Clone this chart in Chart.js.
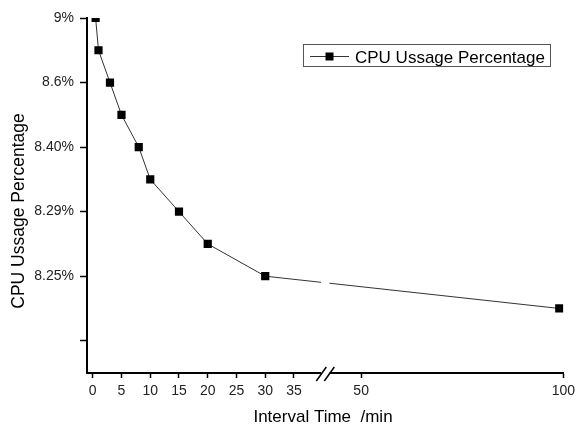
<!DOCTYPE html>
<html>
<head>
<meta charset="utf-8">
<title>CPU Ussage Percentage</title>
<script src="https://cdn.jsdelivr.net/npm/chart.js@4/dist/chart.umd.min.js"></script>
<style>
  html, body { margin: 0; padding: 0; background: #fff; }
  #chart { display: block; }
</style>
</head>
<body>
<canvas id="chart" width="580" height="427"></canvas>
<script>
'use strict';

/* ── data ── */
const intervals   = [0.5, 1, 3, 5, 8, 10, 15, 20, 30, 99];          // min
const cpuUsage    = [9.0, 8.8, 8.6, 8.5, 8.40, 8.345, 8.29, 8.27, 8.25, 8.225]; // %

const xTickValues = [0, 5, 10, 15, 20, 25, 30, 35, 50, 100];
const yTickValues = [9.0, 8.6, 8.40, 8.29, 8.25, 8.20];             // top -> bottom, equally spaced
const yTickLabels = ['9%', '8.6%', '8.40%', '8.29%', '8.25%', ''];

const seriesLabel = 'CPU Ussage Percentage';
const xTitle      = 'Interval Time  /min';
const yTitle      = 'CPU Ussage Percentage';

/* ── axis transforms ── */
// x axis is broken between 40 and 40.5, right part compressed
const xBreak = [40, 40.5];
const xRatio = 0.7034;
function xPos(v) {
  return v <= xBreak[0] ? v : xBreak[0] + (v - xBreak[1]) * xRatio;
}

// y axis: tick values are placed evenly, values in between interpolated
function yPos(v) {
  for (let i = 0; i < yTickValues.length - 1; i++) {
    const a = yTickValues[i], b = yTickValues[i + 1];
    if (v <= a && v >= b) return i + (a - v) / (a - b);
  }
  return v > yTickValues[0] ? 0 : yTickValues.length - 1;
}

const FONT = '"Liberation Sans", Arial, sans-serif';

/* ── plugin: axis break, titles, legend ── */
const extras = {
  id: 'extras',
  afterDraw(chart) {
    const { ctx, chartArea: area, scales } = chart;
    const x = scales.x;

    // axis break
    const c = x.getPixelForValue(xBreak[0]) + 2.6;
    ctx.save();
    ctx.fillStyle = '#fff';
    ctx.fillRect(c - 4.2, area.top, 8.4, area.bottom - area.top + 3);
    ctx.strokeStyle = '#000';
    ctx.lineWidth = 1.5;
    [-4, 4].forEach(d => {
      ctx.beginPath();
      ctx.moveTo(c + d - 5, area.bottom + 8);
      ctx.lineTo(c + d + 5, area.bottom - 6);
      ctx.stroke();
    });

    // titles
    ctx.fillStyle = '#000';
    ctx.font = '17px ' + FONT;
    ctx.textAlign = 'center';
    ctx.textBaseline = 'alphabetic';
    ctx.fillText(xTitle, 323, 422);

    ctx.save();
    ctx.translate(23.5, 211);
    ctx.rotate(-Math.PI / 2);
    ctx.font = '17.5px ' + FONT;
    ctx.fillText(yTitle, 0, 0);
    ctx.restore();

    // legend box
    ctx.strokeStyle = '#555';
    ctx.lineWidth = 1;
    ctx.strokeRect(303.5, 44.5, 247, 22);
    ctx.strokeStyle = '#333';
    ctx.beginPath();
    ctx.moveTo(310, 56.5);
    ctx.lineTo(349, 56.5);
    ctx.stroke();
    ctx.fillStyle = '#000';
    ctx.fillRect(325.5, 52.5, 8, 8);
    ctx.textAlign = 'left';
    ctx.font = '17px ' + FONT;
    ctx.fillText(seriesLabel, 355, 63);
    ctx.restore();
  }
};

new Chart(document.getElementById('chart'), {
  type: 'line',
  data: {
    datasets: [{
      label: seriesLabel,
      data: intervals.map((t, i) => ({ x: xPos(t), y: yPos(cpuUsage[i]) })),
      borderColor: '#333',
      borderWidth: 1,
      tension: 0,
      pointStyle: 'rect',
      pointRadius: 5.8,
      pointBorderWidth: 0,
      pointBackgroundColor: '#000',
      clip: 0,
    }]
  },
  options: {
    responsive: false,
    animation: false,
    events: [],
    layout: { padding: { top: 18, right: 13, left: 0, bottom: 0 } },
    plugins: { legend: { display: false }, tooltip: { enabled: false } },
    scales: {
      x: {
        type: 'linear',
        min: -1,
        max: xPos(100),
        afterBuildTicks: s => { s.ticks = xTickValues.map(v => ({ value: xPos(v) })); },
        afterFit: s => { s.height = 54; },
        ticks: {
          autoSkip: false,
          maxRotation: 0,
          padding: 5,
          color: '#222',
          font: { family: FONT, size: 14 },
          callback: (v, i) => String(xTickValues[i]),
        },
        grid: { drawOnChartArea: false, tickLength: 5, tickColor: '#000', tickWidth: 1.5 },
        border: { color: '#000', width: 2 },
      },
      y: {
        type: 'linear',
        reverse: true,
        min: 0,
        max: yTickValues.length - 0.5,
        afterBuildTicks: s => { s.ticks = yTickValues.map((_, i) => ({ value: i })); },
        afterFit: s => { s.width = 87; },
        ticks: {
          autoSkip: false,
          padding: 6,
          color: '#222',
          font: { family: FONT, size: 14 },
          callback: (v, i) => yTickLabels[i],
        },
        grid: { drawOnChartArea: false, tickLength: 7, tickColor: '#000', tickWidth: 1.5 },
        border: { color: '#000', width: 2 },
      }
    }
  },
  plugins: [extras]
});
</script>
</body>
</html>
